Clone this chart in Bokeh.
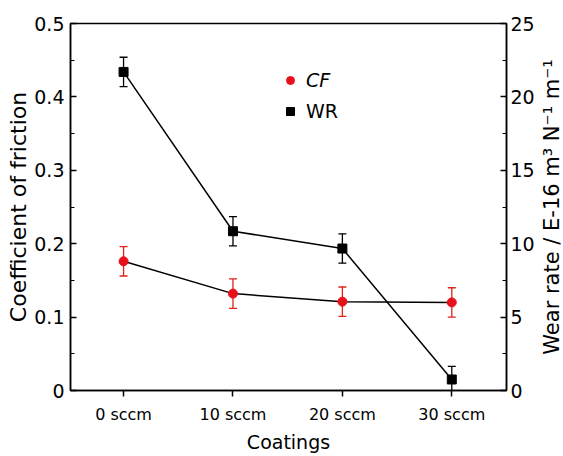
from bokeh.plotting import figure
from bokeh.layouts import row
from bokeh.models import (ColumnDataSource, Range1d, LinearAxis, Whisker, TeeHead,
                          Legend, LegendItem, FixedTicker)
from bokeh.embed import file_html
from bokeh.resources import INLINE

# ---- data ----
coatings = ["0 sccm", "10 sccm", "20 sccm", "30 sccm"]
cf = [0.176, 0.132, 0.121, 0.120]
cf_err = [0.020, 0.020, 0.020, 0.020]
wr = [21.7, 10.85, 9.67, 0.75]
wr_err = [1.0, 1.0, 1.0, 0.9]

xpos = list(range(len(coatings)))
FONT = "DejaVu Sans"
RIGHT_TITLE = "Wear rate / E-16 m³ N⁻¹ m⁻¹"

src_cf = ColumnDataSource(dict(x=xpos, y=cf,
                               lo=[a - b for a, b in zip(cf, cf_err)],
                               hi=[a + b for a, b in zip(cf, cf_err)]))
src_wr = ColumnDataSource(dict(x=xpos, y=wr,
                               lo=[a - b for a, b in zip(wr, wr_err)],
                               hi=[a + b for a, b in zip(wr, wr_err)]))

p = figure(width=537, height=456, output_backend="svg", toolbar_location=None,
           x_range=Range1d(-0.485, 3.5), y_range=Range1d(0, 0.5),
           min_border_left=70, min_border_right=28, min_border_top=23, min_border_bottom=66)
p.extra_y_ranges = {"wr": Range1d(0, 25)}
p.grid.visible = False
p.outline_line_color = "black"
p.outline_line_width = 1.5
p.background_fill_color = "white"
p.border_fill_color = "white"

# x axis
xa = p.xaxis[0]
xa.ticker = FixedTicker(ticks=xpos)
xa.major_label_overrides = {i: c for i, c in enumerate(coatings)}
xa.axis_label = "Coatings"
xa.minor_tick_line_color = None
xa.major_tick_in = 0
xa.major_tick_out = 6

# left axis
ya = p.yaxis[0]
ya.ticker = FixedTicker(ticks=[0, 0.1, 0.2, 0.3, 0.4, 0.5],
                        minor_ticks=[0.05, 0.15, 0.25, 0.35, 0.45])
ya.formatter.use_scientific = False
ya.axis_label = "Coefficient of friction"
ya.major_tick_in = 6
ya.major_tick_out = 0
ya.minor_tick_in = 4
ya.minor_tick_out = 0

# right axis (ticks only; its title is drawn beside, reading bottom-to-top)
ra = LinearAxis(y_range_name="wr",
                ticker=FixedTicker(ticks=[0, 5, 10, 15, 20, 25],
                                   minor_ticks=[2.5, 7.5, 12.5, 17.5, 22.5]))
ra.major_tick_in = 6
ra.major_tick_out = 0
ra.minor_tick_in = 4
ra.minor_tick_out = 0
p.add_layout(ra, "right")

for ax in [xa, ya, ra]:
    ax.axis_line_width = 1.5
    ax.major_tick_line_width = 1.5
    ax.minor_tick_line_width = 1.2
    ax.axis_line_color = "black"
    ax.major_label_text_font = FONT
    ax.axis_label_text_font = FONT
    ax.axis_label_text_font_style = "normal"
    ax.major_label_text_color = "black"
    ax.axis_label_text_color = "black"
    ax.major_label_text_font_size = "19px"
    ax.axis_label_text_font_size = "22px"
xa.major_label_text_font_size = "16px"
xa.axis_label_text_font_size = "19px"
xa.major_label_standoff = 8
xa.axis_label_standoff = 4
ya.major_label_standoff = 6
ya.axis_label_standoff = 0
ra.major_label_standoff = 4

# lines
p.line("x", "y", source=src_cf, line_color="black", line_width=1.5)
p.line("x", "y", source=src_wr, line_color="black", line_width=1.5, y_range_name="wr")

# error bars
w_cf = Whisker(base="x", upper="hi", lower="lo", source=src_cf,
               line_color="#e0201a", line_width=1.3,
               upper_head=TeeHead(size=8, line_color="#e0201a", line_width=1.3),
               lower_head=TeeHead(size=8, line_color="#e0201a", line_width=1.3))
w_wr = Whisker(base="x", upper="hi", lower="lo", source=src_wr, y_range_name="wr",
               line_color="black", line_width=1.3,
               upper_head=TeeHead(size=8, line_color="black", line_width=1.3),
               lower_head=TeeHead(size=8, line_color="black", line_width=1.3))
p.add_layout(w_cf)
p.add_layout(w_wr)

# markers
r_cf = p.scatter("x", "y", source=src_cf, marker="circle", size=9,
                 fill_color="#e8101a", line_color="#e8101a")
r_wr = p.scatter("x", "y", source=src_wr, marker="square", size=9,
                 fill_color="black", line_color="black", y_range_name="wr")

common = dict(orientation="vertical", background_fill_alpha=0, border_line_color=None,
              padding=0, margin=0, glyph_width=20, glyph_height=20, label_height=20,
              label_standoff=6, label_text_font=FONT, label_text_font_size="19px",
              label_text_color="black")
leg_cf = Legend(items=[LegendItem(label="CF", renderers=[r_cf])],
                location=(210, 299), label_text_font_style="italic", **common)
leg_wr = Legend(items=[LegendItem(label="WR", renderers=[r_wr])],
                location=(210, 268), label_text_font_style="normal", **common)
p.add_layout(leg_cf)
p.add_layout(leg_wr)

# narrow strip carrying the right-hand title
p2 = figure(width=26, height=456, output_backend="svg", toolbar_location=None,
            x_range=Range1d(0, 1), y_range=Range1d(0, 1),
            min_border_left=25, min_border_right=0, min_border_top=23, min_border_bottom=66)
p2.grid.visible = False
p2.xaxis.visible = False
p2.outline_line_color = None
p2.background_fill_color = "white"
p2.border_fill_color = "white"
ta = p2.yaxis[0]
ta.ticker = FixedTicker(ticks=[])
ta.axis_line_color = None
ta.major_tick_line_color = None
ta.minor_tick_line_color = None
ta.major_label_text_font_size = "0px"
ta.axis_label = RIGHT_TITLE
ta.axis_label_text_font = FONT
ta.axis_label_text_font_size = "21px"
ta.axis_label_text_font_style = "normal"
ta.axis_label_text_color = "black"
ta.axis_label_standoff = 0

layout = row(p, p2, spacing=0)
open("out.html", "w").write(file_html(layout, INLINE))
